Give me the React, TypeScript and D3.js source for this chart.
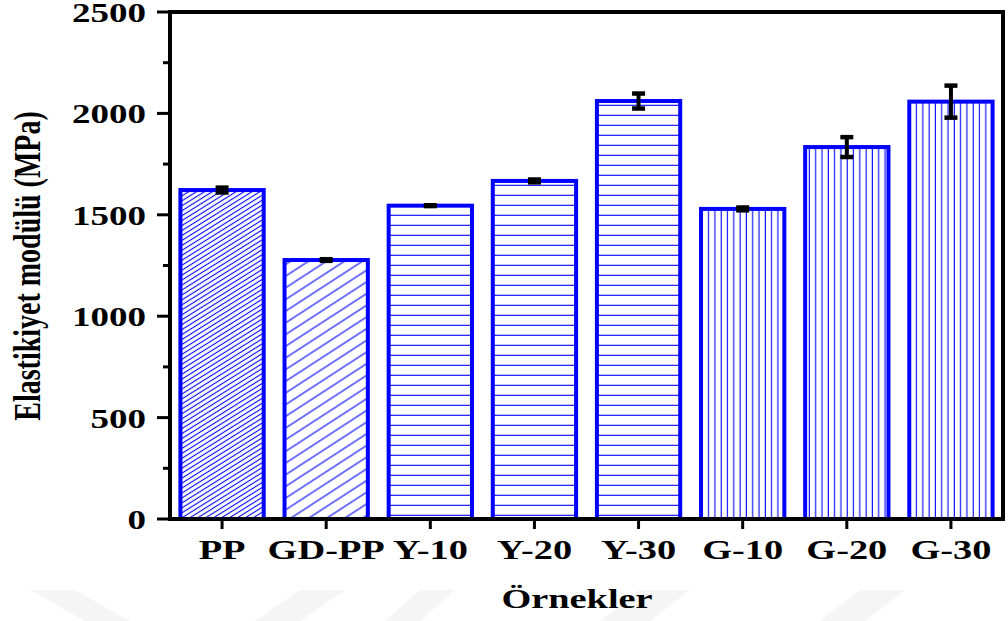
import React, { useEffect, useRef } from 'react';
import * as d3 from 'd3';

const categories = ['PP', 'GD-PP', 'Y-10', 'Y-20', 'Y-30', 'G-10', 'G-20', 'G-30'];
const modulus = [1622, 1277, 1545, 1667, 2061, 1529, 1834, 2058];
const modulusErr = [12, 4, 2, 7, 37, 7, 49, 79];
const yTicks = [0, 500, 1000, 1500, 2000, 2500];
const hatches = ['diagDense', 'diagSparse', 'horiz', 'horiz', 'horiz', 'vert', 'vert', 'vert'];

const BLUE = '#0000ff';
const FONT = '"Liberation Serif", "Times New Roman", serif';
const SX = 1.37;

const App = () => {
  const svgRef = useRef<SVGSVGElement>(null);

  useEffect(() => {
    const W = 1008, H = 621;
    const margin = { top: 12, right: 5, bottom: 102, left: 170 };
    const x0 = margin.left, x1 = W - margin.right;
    const y0 = H - margin.bottom, y1 = margin.top;

    const svg = d3.select(svgRef.current);
    svg.selectAll('*').remove();
    svg.attr('width', W).attr('height', H);

    svg.append('rect').attr('width', W).attr('height', H).attr('fill', '#fff');

    // faint watermark chevrons at the bottom
    const wm = svg.append('g').attr('fill', '#f5f5f5');
    [
      [[30, 590], [75, 590], [130, 621], [85, 621]],
      [[300, 590], [345, 590], [300, 621], [255, 621]],
      [[420, 590], [455, 590], [420, 621], [385, 621]],
      [[640, 590], [690, 590], [650, 621], [600, 621]],
      [[860, 590], [905, 590], [865, 621], [820, 621]],
    ].forEach(p => wm.append('polygon').attr('points', p.map(q => q.join(',')).join(' ')));

    const defs = svg.append('defs');
    const hatch = (id: string, size: number, angle: number, offset: number) => {
      const p = defs.append('pattern').attr('id', id)
        .attr('patternUnits', 'userSpaceOnUse')
        .attr('width', 20).attr('height', size)
        .attr('patternTransform', `rotate(${angle})`);
      p.append('line').attr('x1', -5).attr('x2', 25)
        .attr('y1', offset).attr('y2', offset)
        .attr('stroke', BLUE).attr('stroke-width', 1.1);
    };
    hatch('diagDense', 4.2, -32, 2.1);
    hatch('diagSparse', 9.8, -33, 4.9);
    hatch('horiz', 10, 0, 5.3);
    hatch('vert', 6.3, 90, 3.3);

    const x = d3.scaleBand<string>().domain(categories).range([x0, x1]).paddingInner(0.2).paddingOuter(0.1);
    const y = d3.scaleLinear().domain([0, 2500]).range([y0, y1]);

    // bars
    svg.append('g').selectAll('rect')
      .data(categories)
      .enter().append('rect')
      .attr('x', d => x(d)!)
      .attr('width', x.bandwidth())
      .attr('y', (d, i) => y(modulus[i]))
      .attr('height', (d, i) => y(0) - y(modulus[i]))
      .attr('fill', (d, i) => `url(#${hatches[i]})`)
      .attr('stroke', BLUE)
      .attr('stroke-width', 4);

    // error bars
    const eg = svg.append('g').attr('stroke', '#000');
    categories.forEach((c, i) => {
      const cx = x(c)! + x.bandwidth() / 2;
      const lo = y(modulus[i] - modulusErr[i]);
      const hi = y(modulus[i] + modulusErr[i]);
      eg.append('line').attr('x1', cx).attr('x2', cx).attr('y1', lo).attr('y2', hi).attr('stroke-width', 4);
      [lo, hi].forEach(v => eg.append('line').attr('x1', cx - 6.5).attr('x2', cx + 6.5)
        .attr('y1', v).attr('y2', v).attr('stroke-width', 4.5));
    });

    // frame
    const fr = svg.append('g').attr('stroke', '#000').attr('stroke-width', 4).attr('fill', 'none');
    fr.append('line').attr('x1', x0).attr('x2', x0).attr('y1', y1 - 2).attr('y2', y0 + 2);
    fr.append('line').attr('x1', x1).attr('x2', x1).attr('y1', y1 - 2).attr('y2', y0 + 2);
    fr.append('line').attr('x1', x0 - 2).attr('x2', x1 + 2).attr('y1', y1).attr('y2', y1);
    fr.append('line').attr('x1', x0 - 2).attr('x2', x1 + 2).attr('y1', y0).attr('y2', y0);

    // y ticks
    const minor = d3.range(250, 2500, 500);
    yTicks.forEach(t => fr.append('line').attr('x1', x0 - 13).attr('x2', x0).attr('y1', y(t)).attr('y2', y(t)).attr('stroke-width', 3));
    minor.forEach(t => fr.append('line').attr('x1', x0 - 7).attr('x2', x0).attr('y1', y(t)).attr('y2', y(t)).attr('stroke-width', 3));

    // x ticks
    categories.forEach(c => {
      const cx = x(c)! + x.bandwidth() / 2;
      fr.append('line').attr('x1', cx).attr('x2', cx).attr('y1', y0).attr('y2', y0 + 10).attr('stroke-width', 3);
    });

    const txt = svg.append('g').attr('font-family', FONT).attr('font-weight', 'bold').attr('fill', '#000');

    yTicks.forEach(t => {
      txt.append('text')
        .attr('transform', `translate(${x0 - 24},${y(t) + 10}) scale(${SX},1)`)
        .attr('text-anchor', 'end')
        .attr('font-size', 27)
        .text(t);
    });

    categories.forEach(c => {
      const cx = x(c)! + x.bandwidth() / 2;
      txt.append('text')
        .attr('transform', `translate(${cx},${y0 + 40}) scale(${SX},1)`)
        .attr('text-anchor', 'middle')
        .attr('font-size', 28)
        .text(c);
    });

    txt.append('text')
      .attr('transform', `translate(577,608) scale(${SX},1)`)
      .attr('text-anchor', 'middle')
      .attr('font-size', 28)
      .text('Örnekler');

    txt.append('text')
      .attr('transform', `translate(40,266) scale(1.33,1) rotate(-90)`)
      .attr('text-anchor', 'middle')
      .attr('font-size', 28)
      .text('Elastikiyet modülü (MPa)');
  }, []);

  return (
    <div style={{ position: 'absolute', left: 0, top: 0 }}>
      <svg ref={svgRef} style={{ display: 'block' }}></svg>
    </div>
  );
};

export default App;
